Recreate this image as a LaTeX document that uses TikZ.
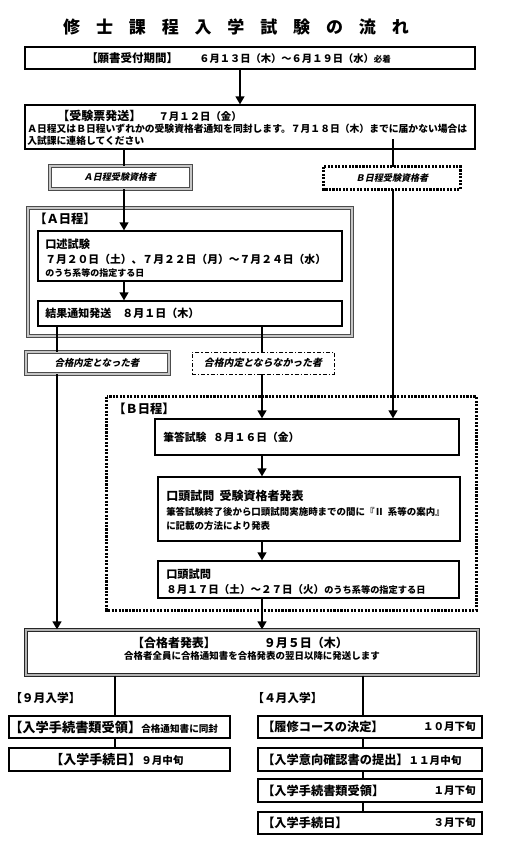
\documentclass[tikz,border=0pt]{standalone}
\usepackage{fontspec}
\setmainfont{Noto Sans CJK JP}
\newfontfamily\jpsl{Noto Sans CJK JP}[FakeSlant=0.22]
\usetikzlibrary{fit,arrows.meta}
\newcommand\fz[1]{\fontsize{#1pt}{#1pt}\selectfont}
\newcommand\tg{\hspace{11.9pt}}
\begin{document}
\begin{tikzpicture}[x=0.75pt,y=-0.75pt,
  every node/.style={font=\bfseries},
  box/.style={draw=black, line width=0.9pt, inner sep=0pt, fill=white},
  gbox/.style={draw=black!70, double=gray!45, double distance=0.9pt, line width=0.7pt, inner sep=0pt, fill=white},
  kbox/.style={draw=black!85, double=gray!60, double distance=1pt, line width=0.8pt, inner sep=0pt, fill=white},
  dotbox/.style={draw=black, line width=2pt, dash pattern=on 1.6pt off 1pt, inner sep=0pt},
  ddbox/.style={draw=black, line width=0.6pt, dash pattern=on 3pt off 1.5pt on 1pt off 1.5pt, inner sep=0pt, fill=white},
  txt/.style={inner sep=0pt, anchor=west},
  conn/.style={line width=1.5pt},
  arr/.style={conn, -{Triangle[length=6pt,width=6.5pt]}}]
\useasboundingbox (0,0) rectangle (509,851);
\fill[white] (0,0) rectangle (509,851);

% title
\node[inner sep=0pt] (title) at (236,27) {\fz{12.75}修\tg 士\tg 課\tg 程\tg 入\tg 学\tg 試\tg 験\tg の\tg 流\tg れ};

% box 1
\node[box, fit={(25,47)(475,69)}] (b1) {};
\node[txt] (b1t) at (86,58) {\fz{8.6}【願書受付期間】\hspace{16pt}{\fz{7.7}６月１３日（木）～６月１９日（水）}{\fz{6.4}必着}};

% box 2
\node[box, fit={(25,105)(475,149)}] (b2) {};
\node[txt] (b2t1) at (57,116) {\fz{9}【受験票発送】\hspace{13pt}{\fz{7.8}７月１２日（金）}};
\node[txt] (b2t2) at (27,129) {\fz{7.35}Ａ日程又はＢ日程いずれかの受験資格者通知を同封します。７月１８日（木）までに届かない場合は};
\node[txt] (b2t3) at (27,141) {\fz{7.35}入試課に連絡してください};

% qualification labels
\node[gbox, fit={(50,166)(191,189)}] (la) {};
\node[inner sep=0pt] (lat) at (120,177.5) {\jpsl\bfseries\fz{6.8}Ａ日程受験資格者};
\node[inner sep=0pt, fit={(324,167)(460,189)}] (lb) {};
\draw[dotbox] (lb.north west) rectangle (lb.south east);
\node[inner sep=0pt] (lbt) at (392,178) {\jpsl\bfseries\fz{6.8}Ｂ日程受験資格者};

% A schedule
\node[gbox, fit={(28,208)(352,336)}] (aout) {};
\node[txt] (aoutt) at (34,219) {\fz{9.2}【Ａ日程】};
\node[box, fit={(38,231)(342,281)}] (ka) {};
\node[txt] (kat1) at (45,244) {\fz{8.4}口述試験};
\node[txt] (kat2) at (45,259) {\fz{8.1}７月２０日（土）、７月２２日（月）～７月２４日（水）};
\node[txt] (kat3) at (45,273) {\fz{6.75}のうち系等の指定する日};
\node[box, fit={(38,301)(342,326)}] (kk) {};
\node[txt] (kkt) at (45,313.5) {\fz{8.25}結果通知発送\hspace{8.25pt}８月１日（木）};

% result labels
\node[gbox, fit={(26,352)(169,374)}] (ra) {};
\node[inner sep=0pt] (rat) at (97,363) {\jpsl\bfseries\fz{7.1}合格内定となった者};
\node[ddbox, fit={(192,352)(334,374)}] (rb) {};
\node[inner sep=0pt] (rbt) at (263,363) {\jpsl\bfseries\fz{7.4}合格内定とならなかった者};

% B schedule
\node[inner sep=0pt, fit={(107,397)(476,610)}] (bout) {};
\draw[dotbox] (bout.north west) rectangle (bout.south east);
\node[txt] (boutt) at (113,409) {\fz{9.2}【Ｂ日程】};
\node[box, fit={(155,419)(459,455)}] (hk) {};
\node[txt] (hkt) at (163,437) {\fz{8.1}筆答試験\hspace{5pt}８月１６日（金）};
\node[box, fit={(158,477)(460,541)}] (ks) {};
\node[txt] (kst1) at (166,496) {\fz{9}口頭試問\hspace{4pt}受験資格者発表};
\node[txt] (kst2) at (166,512) {\fz{7.1}筆答試験終了後から口頭試問実施時までの間に『Ⅱ\hspace{3pt}系等の案内』};
\node[txt] (kst3) at (166,526) {\fz{7.1}に記載の方法により発表};
\node[box, fit={(158,561)(459,598)}] (km) {};
\node[txt] (kmt1) at (166,574) {\fz{8.4}口頭試問};
\node[txt] (kmt2) at (166,589) {\fz{7.9}８月１７日（土）～２７日（火）{\fz{6.9}のうち系等の指定する日}};

% pass announcement
\node[kbox, fit={(26,630)(478,675)}] (pa) {};
\node[inner sep=0pt] (pat1) at (240,643) {\fz{9}【合格者発表】\hspace{36pt}９月５日（木）};
\node[inner sep=0pt] (pat2) at (252,656) {\fz{7.1}合格者全員に合格通知書を合格発表の翌日以降に発送します};

% enrollment
\node[txt] (l9) at (10,698) {\fz{8.8}【９月入学】};
\node[txt] (l4) at (252,698) {\fz{8.8}【４月入学】};

\node[box, fit={(9,716)(230,738)}] (s1) {};
\node[txt] (s1t) at (9,727) {\fz{9.9}【入学手続書類受領】{\fz{7.2}合格通知書に同封}};
\node[box, fit={(9,748)(230,771)}] (s2) {};
\node[txt] (s2t) at (50,760) {\fz{9.75}【入学手続日】{\fz{7.9}９月中旬}};

\node[box, fit={(258,716)(482,738)}] (a1) {};
\node[txt] (a1t) at (262,727) {\fz{9.15}【履修コースの決定】};
\node[inner sep=0pt, anchor=east] (a1d) at (476,727) {\fz{7.9}１０月下旬};
\node[box, fit={(258,748)(482,771)}] (a2) {};
\node[txt] (a2t) at (262,760) {\fz{9.15}【入学意向確認書の提出】{\fz{7.9}１１月中旬}};
\node[box, fit={(258,779)(482,802)}] (a3) {};
\node[txt] (a3t) at (262,791) {\fz{9.15}【入学手続書類受領】};
\node[inner sep=0pt, anchor=east] (a3d) at (476,791) {\fz{7.9}１月下旬};
\node[box, fit={(258,812)(482,834)}] (a4) {};
\node[txt] (a4t) at (262,823) {\fz{9.15}【入学手続日】};
\node[inner sep=0pt, anchor=east] (a4d) at (476,823) {\fz{7.9}３月下旬};

% x positions of connectors
\coordinate (x1) at (240,0);
\coordinate (xA) at (124,0);
\coordinate (xB) at (393,0);
\coordinate (xL) at (57,0);
\coordinate (xR) at (262,0);
\coordinate (x9) at (115,0);
\coordinate (x4) at (363,0);
\coordinate (bstart) at (393,139);

% connectors
\draw[arr] (b1.south -| x1) -- (b2.north -| x1);
\draw[conn] (b2.south -| xA) -- (la.north -| xA);
\draw[arr] (la.south -| xA) -- (ka.north -| xA);
\draw[conn] (bstart) -- (lb.north -| xB);
\draw[arr] (lb.south -| xB) -- (hk.north -| xB);
\draw[arr] (ka.south -| xA) -- (kk.north -| xA);
\draw[conn] (kk.south -| xL) -- (ra.north -| xL);
\draw[conn] (kk.south -| xR) -- (rb.north -| xR);
\draw[arr] (ra.south -| xL) -- (pa.north -| xL);
\draw[arr] (rb.south -| xR) -- (hk.north -| xR);
\draw[arr] (hk.south -| xR) -- (ks.north -| xR);
\draw[arr] (ks.south -| xR) -- (km.north -| xR);
\draw[arr] (km.south -| xR) -- (pa.north -| xR);
\draw[conn] (pa.south -| x9) -- (s1.north -| x9);
\draw[conn] (s1.south -| x9) -- (s2.north -| x9);
\draw[conn] (pa.south -| x4) -- (a1.north -| x4);
\draw[conn] (a1.south -| x4) -- (a2.north -| x4);
\draw[conn] (a2.south -| x4) -- (a3.north -| x4);
\draw[conn] (a3.south -| x4) -- (a4.north -| x4);
\end{tikzpicture}
\end{document}
